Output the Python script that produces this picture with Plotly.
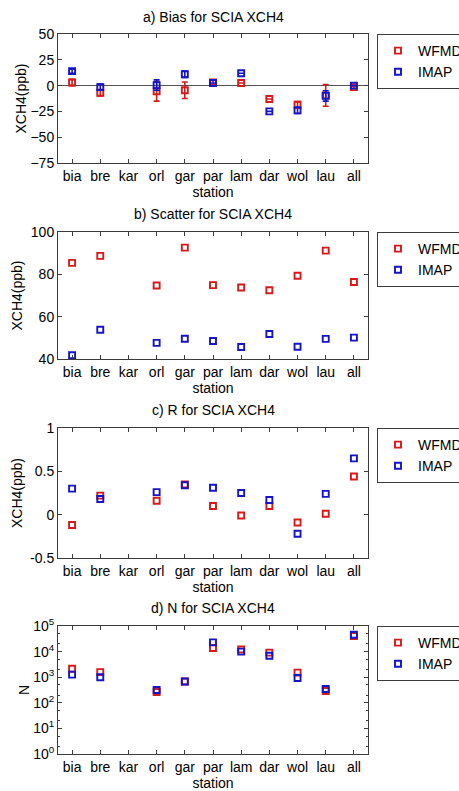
import plotly.graph_objects as go

stations = ["bia", "bre", "kar", "orl", "gar", "par", "lam", "dar", "wol", "lau", "all"]

# a) Bias
bias_wfmd = [3, -7, None, -5.5, -4.5, 3, 2.5, -13, -18.5, -9.5, -1.5]
bias_wfmd_err = [3, 3, None, 9.5, 8, 2, 0, 0, 3, 10.5, 1]
bias_imap = [14, -1.5, None, 0.5, 11, 2.5, 12, -25, -24, -10, 0]
bias_imap_err = [2, 3, None, 5, 3, 0, 0, 0, 3, 5, 0]

# b) Scatter
scat_wfmd = [85.4, 88.7, None, 74.7, 92.6, 74.9, 73.8, 72.5, 79.3, 91.2, 76.4]
scat_imap = [41.8, 53.8, None, 47.6, 49.6, 48.5, 45.7, 51.8, 45.8, 49.5, 50.1]

# c) R
r_wfmd = [-0.12, 0.22, None, 0.16, 0.35, 0.10, -0.01, 0.10, -0.09, 0.01, 0.44]
r_imap = [0.30, 0.18, None, 0.26, 0.34, 0.31, 0.25, 0.17, -0.22, 0.24, 0.65]

# d) N
n_wfmd = [2150, 1580, None, 263, 676, 13800, 12000, 9100, 1510, 290, 40800]
n_imap = [1260, 1000, None, 316, 676, 23000, 10000, 6900, 930, 345, 45500]

# tick labels
bias_ticks = [-75, -50, -25, 0, 25, 50]
scat_ticks = [40, 60, 80, 100]
r_ticks = [-0.5, 0, 0.5, 1]
r_ticklabels = ["-0.5", "0", "0.5", "1"]
n_exponents = [0, 1, 2, 3, 4, 5]

titles = ["a) Bias for SCIA XCH4", "b) Scatter for SCIA XCH4",
          "c) R for SCIA XCH4", "d) N for SCIA XCH4"]
ylabels = ["XCH4(ppb)", "XCH4(ppb)", "XCH4(ppb)", "N"]
series_names = ["WFMD", "IMAP"]

RED = "rgb(215,25,25)"
BLUE = "rgb(20,20,200)"
FONT = "Liberation Sans, Arial, sans-serif"
AX = "#3c3c3c"

W, H = 459, 791
# panel pixel boxes (top, bottom)
panels = [(34, 163), (232, 359), (428, 558), (626, 754)]
xl, xr = 58, 368
ytitle_standoff = [0, 4, 4, 0]

fig = go.Figure()

data_sets = [
    (bias_wfmd, bias_imap, bias_wfmd_err, bias_imap_err),
    (scat_wfmd, scat_imap, None, None),
    (r_wfmd, r_imap, None, None),
    (n_wfmd, n_imap, None, None),
]

for i, (w, m, we, me) in enumerate(data_sets):
    sfx = "" if i == 0 else str(i + 1)
    leg = "legend" if i == 0 else "legend" + str(i + 1)
    for vals, err, col, name in [(w, we, RED, series_names[0]), (m, me, BLUE, series_names[1])]:
        kw = {}
        if err is not None:
            kw["error_y"] = dict(type="data", array=err, visible=True, color=col,
                                 thickness=1.6, width=3)
        fig.add_trace(go.Scatter(
            x=stations, y=vals, mode="markers", name=name,
            marker=dict(symbol="square-open", size=6, color=col, line=dict(width=1.9, color=col)),
            xaxis="x" + sfx, yaxis="y" + sfx, legend=leg, showlegend=True, **kw))

layout = dict(
    width=W, height=H,
    margin=dict(l=0, r=0, t=0, b=0, autoexpand=False),
    paper_bgcolor="white", plot_bgcolor="white",
    font=dict(family=FONT, size=14, color="black"),
    annotations=[],
)

yaxis_cfgs = [
    dict(range=[-75, 50], tickvals=bias_ticks, zeroline=True,
         zerolinecolor="#555", zerolinewidth=1),
    dict(range=[40, 100], tickvals=scat_ticks, zeroline=False),
    dict(range=[-0.5, 1], tickvals=r_ticks, ticktext=r_ticklabels, zeroline=False),
    dict(type="log", range=[0, 5], zeroline=False,
         tickvals=[10 ** e for e in n_exponents],
         ticktext=["10<sup>%d</sup>" % e for e in n_exponents],
         minor=dict(ticks="inside", ticklen=2, tickcolor=AX, showgrid=False)),
]

title_y = [17, 214, 410, 608]

for i, (top, bot) in enumerate(panels):
    sfx = "" if i == 0 else str(i + 1)
    xa = dict(
        domain=[xl / W, xr / W], anchor="y" + sfx,
        type="category", categoryorder="array", categoryarray=stations,
        range=[-0.5, 10.5], showline=True, mirror="allticks", linecolor=AX, linewidth=1,
        ticks="inside", ticklen=4, tickcolor=AX, showgrid=False, zeroline=False,
        tickfont=dict(size=14), title=dict(text="station", font=dict(size=14), standoff=2),
    )
    ya = dict(
        domain=[1 - bot / H, 1 - top / H], anchor="x" + sfx,
        showline=True, mirror="allticks", linecolor=AX, linewidth=1,
        ticks="inside", ticklen=4, tickcolor=AX, showgrid=False,
        tickfont=dict(size=14),
        title=dict(text=ylabels[i], font=dict(size=14), standoff=ytitle_standoff[i]),
    )
    ya.update(yaxis_cfgs[i])
    layout["xaxis" + sfx] = xa
    layout["yaxis" + sfx] = ya
    layout["annotations"].append(dict(
        text=titles[i], xref="paper", yref="paper", x=(xl + xr) / 2 / W, y=1 - title_y[i] / H,
        xanchor="center", yanchor="middle", showarrow=False, font=dict(size=14)))
    leg = "legend" if i == 0 else "legend" + str(i + 1)
    layout[leg] = dict(
        xref="container", yref="container", x=377 / W, y=1 - top / H,
        xanchor="left", yanchor="top", bordercolor=AX, borderwidth=1,
        bgcolor="white", font=dict(size=14), itemwidth=30, tracegroupgap=0)

fig.update_layout(**layout)
fig.write_html("out.html", config={"displayModeBar": False},
               post_script="document.body.style.margin='0';document.body.style.padding='0';")
